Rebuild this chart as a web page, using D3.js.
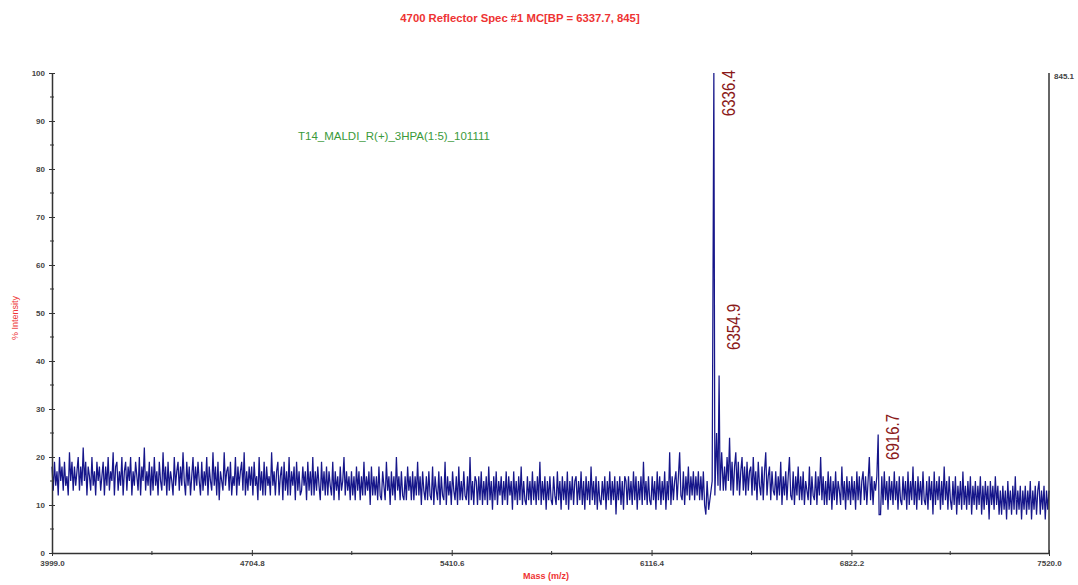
<html>
  <meta charset="utf-8" />
  <script src="https://d3js.org/d3.v7.min.js"></script>
  <style>
    body { margin: 0; background: #fff; }
    text { font-family: "Liberation Sans", Arial, sans-serif; }
  </style>
  <body>
    <div id="spec"></div>
    <script>
      // spectrum, evenly sampled between massStart and massEnd
      const massStart = 3999.0;
      const massEnd = 7520.0;
      const intensity = [
        18,13,19,14,17,12,20,15,18,13,19,14,16,12,21,15,19,13,18,14,
        17,20,13,18,14,22,15,19,12,18,16,13,20,14,17,12,19,15,18,13,
        16,19,12,18,14,20,13,17,15,21,12,18,19,13,17,14,20,12,17,19,
        13,18,15,20,12,17,14,19,16,13,20,12,18,15,22,13,17,14,19,12,
        18,13,20,14,17,12,19,15,13,21,14,18,12,19,13,17,15,12,20,14,
        17,19,13,18,14,21,15,12,19,14,18,12,16,20,13,18,14,19,15,12,
        19,13,17,14,20,12,18,15,13,21,14,18,12,19,11,17,15,13,21,14,
        17,18,13,19,12,16,14,20,12,18,14,17,19,13,21,12,17,13,18,14,
        18,12,19,14,16,11,20,13,17,12,19,12,18,14,16,12,21,14,17,12,
        17,19,12,16,18,11,19,13,17,12,20,12,17,14,18,11,19,13,17,12,
        13,18,14,17,11,19,13,17,12,20,12,17,13,18,14,11,19,13,17,12,
        18,12,17,14,12,19,11,17,13,16,11,18,13,15,20,12,17,13,16,11,
        17,12,16,11,18,13,17,11,16,12,19,12,16,13,17,10,18,12,16,12,
        16,11,18,12,11,17,14,11,19,13,16,10,17,12,16,11,20,13,16,11,
        17,12,11,16,11,18,13,16,11,17,11,16,12,19,12,16,10,17,13,11,
        16,11,17,12,11,18,10,16,13,11,17,10,16,12,11,19,10,16,12,15,
        10,17,13,11,16,10,18,11,15,11,17,12,11,16,10,20,11,15,10,16,
        15,10,16,11,17,10,15,11,16,10,18,11,15,9,16,11,17,10,15,12,
        16,10,15,11,17,10,16,12,15,9,17,11,15,10,16,11,18,10,15,11,
        10,16,11,15,10,17,11,15,10,16,11,19,10,15,11,16,9,15,11,16,
        11,10,16,12,10,17,11,15,9,16,11,15,10,17,9,15,11,16,10,15,
        16,10,15,11,17,10,15,9,16,11,15,10,18,11,15,10,16,9,15,11,
        10,15,11,16,9,15,11,17,10,15,11,16,8,15,11,16,10,15,9,16,
        15,10,16,11,15,10,17,11,16,9,15,11,16,10,19,11,15,10,16,11,
        10,16,11,15,9,17,11,16,10,15,11,17,9,15,11,21,10,16,11,15,
        17,11,16,21,12,11,17,10,16,12,18,11,16,12,17,11,16,12,17,11,
        16,11,17,10,8,15,15,15,15,15,15,15,15,15,15,15,15,19,13,18,
        13,20,15,24,13,19,12,18,21,13,19,12,17,20,13,18,12,19,13,17,
        18,12,20,13,17,11,19,14,12,18,11,17,21,12,16,18,11,17,13,12,
        17,11,16,12,19,10,16,12,17,11,16,20,12,11,17,10,16,12,18,11,
        16,11,17,10,15,13,11,18,10,16,12,11,17,10,16,12,20,11,16,10,
        15,10,17,11,16,9,15,11,17,10,15,13,10,18,11,15,9,16,11,15,
        10,16,11,15,9,17,11,16,10,15,17,11,16,10,15,20,11,16,10,15,
        13,13,13,13,8,16,10,17,11,15,9,16,11,15,10,17,11,15,9,16,
        11,10,16,11,15,9,17,10,15,11,18,10,15,9,16,11,15,10,17,11,
        10,15,9,16,11,15,8,17,10,15,11,16,9,15,10,18,11,15,9,16,
        11,9,15,10,16,8,14,10,15,9,17,10,14,9,15,10,16,8,14,10,
        15,9,14,10,16,8,14,9,15,10,14,7,15,10,14,9,16,10,14,8,
        13,8,14,9,13,7,15,9,13,8,14,9,16,8,13,9,14,7,13,9,
        14,8,13,9,15,7,13,9,14,8,13,15,8,13,9,14,7,13,9,13
      ];

      // resolved peaks (mass, % intensity)
      const peakMass = [6318.0, 6330.5, 6336.4, 6340.0, 6346.0, 6351.0, 6354.9, 6358.5, 6364.0, 6912.0, 6916.7, 6920.0];
      const peakInt = [9, 15, 100, 12, 25, 14, 37, 13, 21, 16, 24.7, 8];

      const labelMass = [6336.4, 6354.9, 6916.7];
      const labelInt = [91.0, 42.3, 19.4];

      const xTicks = [3999.0, 4704.8, 5410.6, 6116.4, 6822.2, 7520.0];
      const xMinor = [4351.9, 5057.7, 5763.5, 6469.3, 7171.1];
      const yTicks = [0, 10, 20, 30, 40, 50, 60, 70, 80, 90, 100];
      const yMinor = [5, 15, 25, 35, 45, 55, 65, 75, 85, 95];

      const W = 1078, H = 585;
      const plotL = 52, plotR = 1049, plotT = 73, plotB = 553;

      const svg = d3.select("#spec").append("svg")
        .attr("width", W).attr("height", H);

      const x = d3.scaleLinear().domain([massStart, massEnd]).range([plotL, plotR]);
      const y = d3.scaleLinear().domain([0, 100]).range([plotB, plotT]);

      // build trace: samples plus peaks, sorted by mass
      const step = (massEnd - massStart) / (intensity.length - 1);
      let pts = intensity.map((v, i) => ({ m: massStart + i * step, v: v }))
        .filter(d => !(d.m > 6314 && d.m < 6367) && !(d.m > 6909 && d.m < 6923));
      peakMass.forEach((m, i) => pts.push({ m: m, v: peakInt[i] }));
      pts.sort((a, b) => a.m - b.m);

      const line = d3.line().x(d => x(d.m)).y(d => y(d.v));

      svg.append("path")
        .datum(pts)
        .attr("d", line)
        .attr("fill", "none")
        .attr("stroke", "#16168a")
        .attr("stroke-width", 1.25)
        .attr("stroke-linejoin", "miter");

      // axes
      const axisColor = "#333";
      const xAxis = svg.append("g")
        .attr("transform", "translate(0," + plotB + ")")
        .call(d3.axisBottom(x).tickValues(xTicks).tickFormat(d3.format(".1f")).tickSizeInner(3).tickSizeOuter(0));
      xAxis.selectAll(".tick line").attr("y1", -3).attr("y2", 3);
      xAxis.selectAll(".tick text").attr("dy", "0.9em");

      xAxis.selectAll(".minor").data(xMinor).enter().append("line")
        .attr("x1", d => x(d)).attr("x2", d => x(d))
        .attr("y1", -2).attr("y2", 2);

      const yAxis = svg.append("g")
        .attr("transform", "translate(" + plotL + ",0)")
        .call(d3.axisLeft(y).tickValues(yTicks).tickFormat(d3.format("d")).tickSizeInner(3).tickSizeOuter(0));
      yAxis.selectAll(".tick line").attr("x1", -3).attr("x2", 3);
      yAxis.selectAll(".tick text").attr("x", -7);

      yAxis.selectAll(".minor").data(yMinor).enter().append("line")
        .attr("x1", -2).attr("x2", 2)
        .attr("y1", d => y(d)).attr("y2", d => y(d));

      svg.selectAll(".domain").attr("stroke", axisColor).attr("stroke-width", 1.5);
      svg.selectAll("line").attr("stroke", axisColor);
      svg.selectAll(".tick text")
        .attr("font-size", 8).attr("font-weight", "bold").attr("fill", "#444")
        .style("font-family", "Liberation Sans, Arial, sans-serif");

      // right axis
      svg.append("line")
        .attr("x1", plotR).attr("x2", plotR)
        .attr("y1", plotT).attr("y2", plotB)
        .attr("stroke", axisColor).attr("stroke-width", 1.5);
      svg.append("text")
        .attr("x", plotR + 5).attr("y", y(100) + 6)
        .attr("font-size", 8).attr("font-weight", "bold").attr("fill", "#444")
        .text("845.1");

      // titles
      svg.append("text")
        .attr("x", 520).attr("y", 22)
        .attr("text-anchor", "middle")
        .attr("font-size", 11.3).attr("font-weight", "bold")
        .attr("fill", "#ee3333")
        .text("4700 Reflector Spec #1 MC[BP = 6337.7, 845]");

      svg.append("text")
        .attr("x", 298).attr("y", 140)
        .attr("font-size", 11.5)
        .attr("fill", "#3a9a3a")
        .text("T14_MALDI_R(+)_3HPA(1:5)_101111");

      svg.append("text")
        .attr("transform", "translate(18," + 318 + ") rotate(-90)")
        .attr("text-anchor", "middle")
        .attr("font-size", 9)
        .attr("fill", "#ee3333")
        .text("% Intensity");

      svg.append("text")
        .attr("x", 546).attr("y", 579)
        .attr("text-anchor", "middle")
        .attr("font-size", 9).attr("font-weight", "bold")
        .attr("fill", "#ee3333")
        .text("Mass (m/z)");

      // peak labels
      svg.selectAll(".plabel").data(labelMass).enter().append("text")
        .attr("transform", (d, i) => "translate(" + (x(d) + 21) + "," + y(labelInt[i]) + ") rotate(-90)")
        .attr("font-size", 19)
        .attr("textLength", 46)
        .attr("lengthAdjust", "spacingAndGlyphs")
        .attr("fill", "#8b1a1a")
        .text(d => d.toFixed(1));
    </script>
  </body>
</html>
